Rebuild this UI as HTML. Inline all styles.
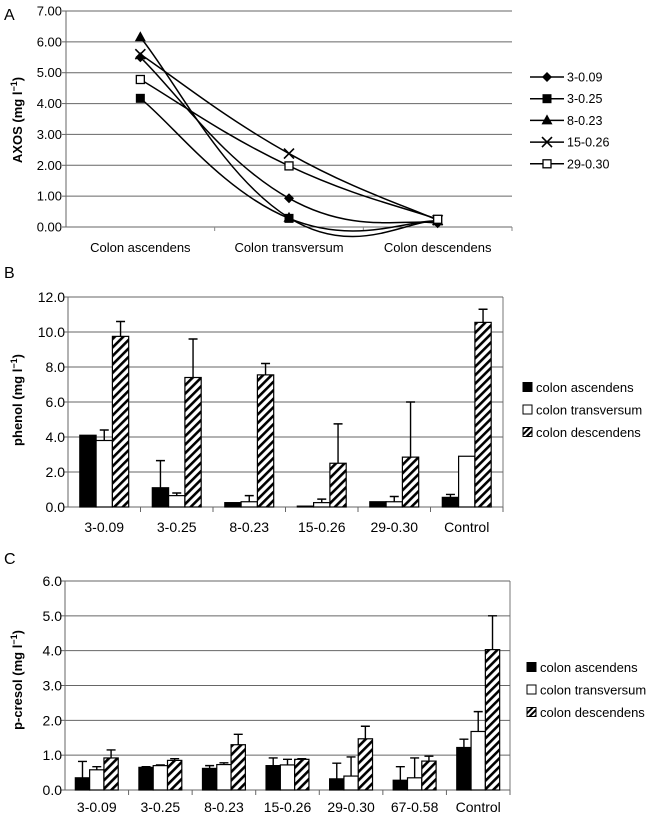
<!DOCTYPE html>
<html><head><meta charset="utf-8">
<style>
body{margin:0;background:#fff;}
svg{display:block;font-family:"Liberation Sans",Arial,sans-serif;}
</style></head>
<body>
<svg id="fig" width="650" height="818" viewBox="0 0 650 818" xmlns="http://www.w3.org/2000/svg">
<defs>
<pattern id="hatch" patternUnits="userSpaceOnUse" width="6" height="6" patternTransform="rotate(45)">
<rect width="6" height="6" fill="#fff"/>
<rect x="0" y="0" width="2.6" height="6" fill="#000"/>
</pattern>
<pattern id="hatchS" patternUnits="userSpaceOnUse" width="4" height="4" patternTransform="rotate(45)">
<rect width="4" height="4" fill="#fff"/>
<rect x="0" y="0" width="2" height="4" fill="#000"/>
</pattern>
</defs>
<text x="4" y="20" font-size="16">A</text>
<text x="4" y="278" font-size="16">B</text>
<text x="4" y="564" font-size="16">C</text>
<g id="chartA"></g>
<g id="chartB"></g>
<g id="chartC"></g>
</svg>
<script>
// ---------- Chart A data ----------
const catsA = ["Colon ascendens","Colon transversum","Colon descendens"];
const seriesNamesA = ["3-0.09","3-0.25","8-0.23","15-0.26","29-0.30"];
const s309 = [5.5, 0.93, 0.12];
const s325 = [4.17, 0.28, 0.2];
const s823 = [6.15, 0.3, 0.2];
const s1526 = [5.6, 2.38, 0.22];
const s2930 = [4.78, 1.98, 0.25];
const ticksA = ["0.00","1.00","2.00","3.00","4.00","5.00","6.00","7.00"];
// ---------- Chart B data ----------
const catsB = ["3-0.09","3-0.25","8-0.23","15-0.26","29-0.30","Control"];
const phenolAsc = [4.1, 1.1, 0.25, 0.05, 0.3, 0.55];
const phenolAscErr = [0, 1.55, 0, 0, 0, 0.17];
const phenolTrans = [3.8, 0.65, 0.3, 0.25, 0.3, 2.9];
const phenolTransErr = [0.6, 0.15, 0.35, 0.2, 0.3, 0];
const phenolDesc = [9.75, 7.4, 7.55, 2.5, 2.85, 10.55];
const phenolDescErr = [0.85, 2.2, 0.65, 2.25, 3.15, 0.75];
const ticksB = ["0.0","2.0","4.0","6.0","8.0","10.0","12.0"];
// ---------- Chart C data ----------
const catsC = ["3-0.09","3-0.25","8-0.23","15-0.26","29-0.30","67-0.58","Control"];
const cresAsc = [0.35, 0.65, 0.62, 0.7, 0.32, 0.28, 1.22];
const cresAscErr = [0.47, 0.02, 0.08, 0.22, 0.45, 0.39, 0.24];
const cresTrans = [0.58, 0.7, 0.73, 0.72, 0.4, 0.35, 1.68];
const cresTransErr = [0.09, 0.02, 0.05, 0.16, 0.55, 0.57, 0.57];
const cresDesc = [0.92, 0.85, 1.3, 0.88, 1.47, 0.83, 4.03];
const cresDescErr = [0.23, 0.05, 0.3, 0.02, 0.36, 0.14, 0.97];
const ticksC = ["0.0","1.0","2.0","3.0","4.0","5.0","6.0"];
const legendBars = ["colon ascendens","colon transversum","colon descendens"];

const NS="http://www.w3.org/2000/svg";
function mk(parent,tag,attrs,text){const e=document.createElementNS(NS,tag);for(const k in attrs)e.setAttribute(k,attrs[k]);if(text!==undefined)e.textContent=text;parent.appendChild(e);return e;}

// ===== Chart A =====
(function(){
const g=document.getElementById('chartA');
const L=66,R=512,T=11,B=227,max=7;
const y=v=>B-(v/max)*(B-T);
const step=(R-L)/catsA.length;
const x=i=>L+step*(i+0.5);
ticksA.forEach((t,i)=>{const v=parseFloat(t);const yy=y(v);
 const ln=mk(g,'line',{x1:L,x2:R,y1:yy,y2:yy,stroke:'#666','stroke-width':1});
 
 
 mk(g,'line',{x1:L-4,x2:L,y1:yy,y2:yy,stroke:'#666'});
 const tx=mk(g,'text',{x:L-4,y:yy+4.5,'font-size':13,'text-anchor':'end'},t);
 
 
});
mk(g,'line',{x1:L,x2:L,y1:T,y2:B,stroke:'#666'});
for(let i=1;i<=catsA.length;i++){mk(g,'line',{x1:L+step*i,x2:L+step*i,y1:B,y2:B+4,stroke:'#888'});}
catsA.forEach((c,i)=>{const t=mk(g,'text',{x:x(i),y:252,'font-size':13,'text-anchor':'middle'},c);
 
 });
const yt=mk(g,'text',{transform:'translate(22,120) rotate(-90)','font-size':13,'font-weight':'bold','text-anchor':'middle'});


yt.innerHTML='AXOS (mg l<tspan dy="-5" font-size="9">−1</tspan><tspan dy="5">)</tspan>';
const all=[s309,s325,s823,s1526,s2930];
function smooth(pts){const f=1/4.5;let d=`M${pts[0][0]},${pts[0][1]}`;for(let i=0;i<pts.length-1;i++){const p0=pts[i-1]||pts[i],p1=pts[i],p2=pts[i+1],p3=pts[i+2]||p2;
 const c1=[p1[0]+(p2[0]-p0[0])*f,p1[1]+(p2[1]-p0[1])*f],c2=[p2[0]-(p3[0]-p1[0])*f,p2[1]-(p3[1]-p1[1])*f];
 d+=` C${c1[0]},${c1[1]} ${c2[0]},${c2[1]} ${p2[0]},${p2[1]}`;}return d;}
function marker(par,k,cx,cy){
 if(k===0)return mk(par,'path',{d:`M${cx},${cy-5}L${cx+5},${cy}L${cx},${cy+5}L${cx-5},${cy}Z`,fill:'#000'});
 if(k===1)return mk(par,'rect',{x:cx-4.5,y:cy-4.5,width:9,height:9,fill:'#000'});
 if(k===2)return mk(par,'path',{d:`M${cx},${cy-6}L${cx+5.5},${cy+4}L${cx-5.5},${cy+4}Z`,fill:'#000'});
 if(k===3)return mk(par,'path',{d:`M${cx-5},${cy-5}L${cx+5},${cy+5}M${cx-5},${cy+5}L${cx+5},${cy-5}`,stroke:'#000','stroke-width':1.6,fill:'none'});
 return mk(par,'rect',{x:cx-4,y:cy-4,width:8,height:8,fill:'#fff',stroke:'#000','stroke-width':1.3});
}
all.forEach((s,k)=>{const sg=mk(g,'g',{});
 
 
 const pts=s.map((v,i)=>[x(i),y(v)]);
 mk(sg,'path',{d:smooth(pts),fill:'none',stroke:'#000','stroke-width':1.5});
 pts.forEach(p=>{const m=marker(sg,k,p[0],p[1]);
  
  });
 const ly=77+k*21.7;
 const lg=mk(g,'g',{});
 
 
 mk(lg,'line',{x1:530,x2:564,y1:ly,y2:ly,stroke:'#000','stroke-width':1.5});
 marker(lg,k,547,ly);
 mk(lg,'text',{x:567,y:ly+4.5,'font-size':12.5},seriesNamesA[k]);
});
})();

// ===== Bar chart helper =====
function barChart(gid,cats,series,errs,ticks,max,L,R,T,B,barW,title,titleY,legX,legY,catY,key){
const g=document.getElementById(gid);
const y=v=>B-(v/max)*(B-T);
mk(g,'line',{x1:R,x2:R,y1:T,y2:B,stroke:'#777'});
ticks.forEach(t=>{const yy=y(parseFloat(t));
 const ln=mk(g,'line',{x1:L,x2:R,y1:yy,y2:yy,stroke:'#666'});
 
 
 mk(g,'line',{x1:L-4,x2:L,y1:yy,y2:yy,stroke:'#666'});
 const tx=mk(g,'text',{x:L-3,y:yy+5,'font-size':14,'text-anchor':'end'},t);
 
 
});
mk(g,'line',{x1:L,x2:L,y1:T,y2:B,stroke:'#666'});
const step=(R-L)/cats.length;
for(let i=1;i<=cats.length;i++)mk(g,'line',{x1:L+step*i,x2:L+step*i,y1:B,y2:B+5,stroke:'#666'});
const fills=['#000','#fff','url(#hatch)'];
cats.forEach((c,i)=>{
 const cx=L+step*(i+0.5);
 const t=mk(g,'text',{x:cx,y:catY,'font-size':14,'text-anchor':'middle'},c);
 
 
 series.forEach((s,k)=>{
  const bx=cx-1.5*barW+k*barW;const top=y(s[i]);
  const r=mk(g,'rect',{x:bx,y:top,width:barW,height:Math.max(B-top,0.5),fill:fills[k],stroke:'#000','stroke-width':1.2});
  
  
  const e=errs[k][i];
  if(e>0){const ey=y(s[i]+e);const mx=bx+barW/2;
   const eb=mk(g,'path',{d:`M${mx},${top}V${ey}M${mx-4.5},${ey}H${mx+4.5}`,stroke:'#000','stroke-width':1.4,fill:'none'});
   
   }
 });
});
const yt=mk(g,'text',{transform:`translate(22,${titleY}) rotate(-90)`,'font-size':13,'font-weight':'bold','text-anchor':'middle'});


yt.innerHTML=title+' (mg l<tspan dy="-5" font-size="9">−1</tspan><tspan dy="5">)</tspan>';
legendBars.forEach((n,k)=>{const ly=legY+k*22.5;
 const lg=mk(g,'g',{});
 
 
 mk(lg,'rect',{x:legX,y:ly-4.5,width:9,height:9,fill:k===2?'url(#hatchS)':fills[k],stroke:'#000','stroke-width':1});
 mk(lg,'text',{x:legX+13,y:ly+5,'font-size':13},n);
});
}
barChart('chartB',catsB,[phenolAsc,phenolTrans,phenolDesc],[phenolAscErr,phenolTransErr,phenolDescErr],ticksB,12,68,503,297,507,16.3,'phenol',400,523,387,532,'b');
barChart('chartC',catsC,[cresAsc,cresTrans,cresDesc],[cresAscErr,cresTransErr,cresDescErr],ticksC,6,65,510,581,790,14.3,'p-cresol',680,527,667,812,'c');
</script>
</body></html>
